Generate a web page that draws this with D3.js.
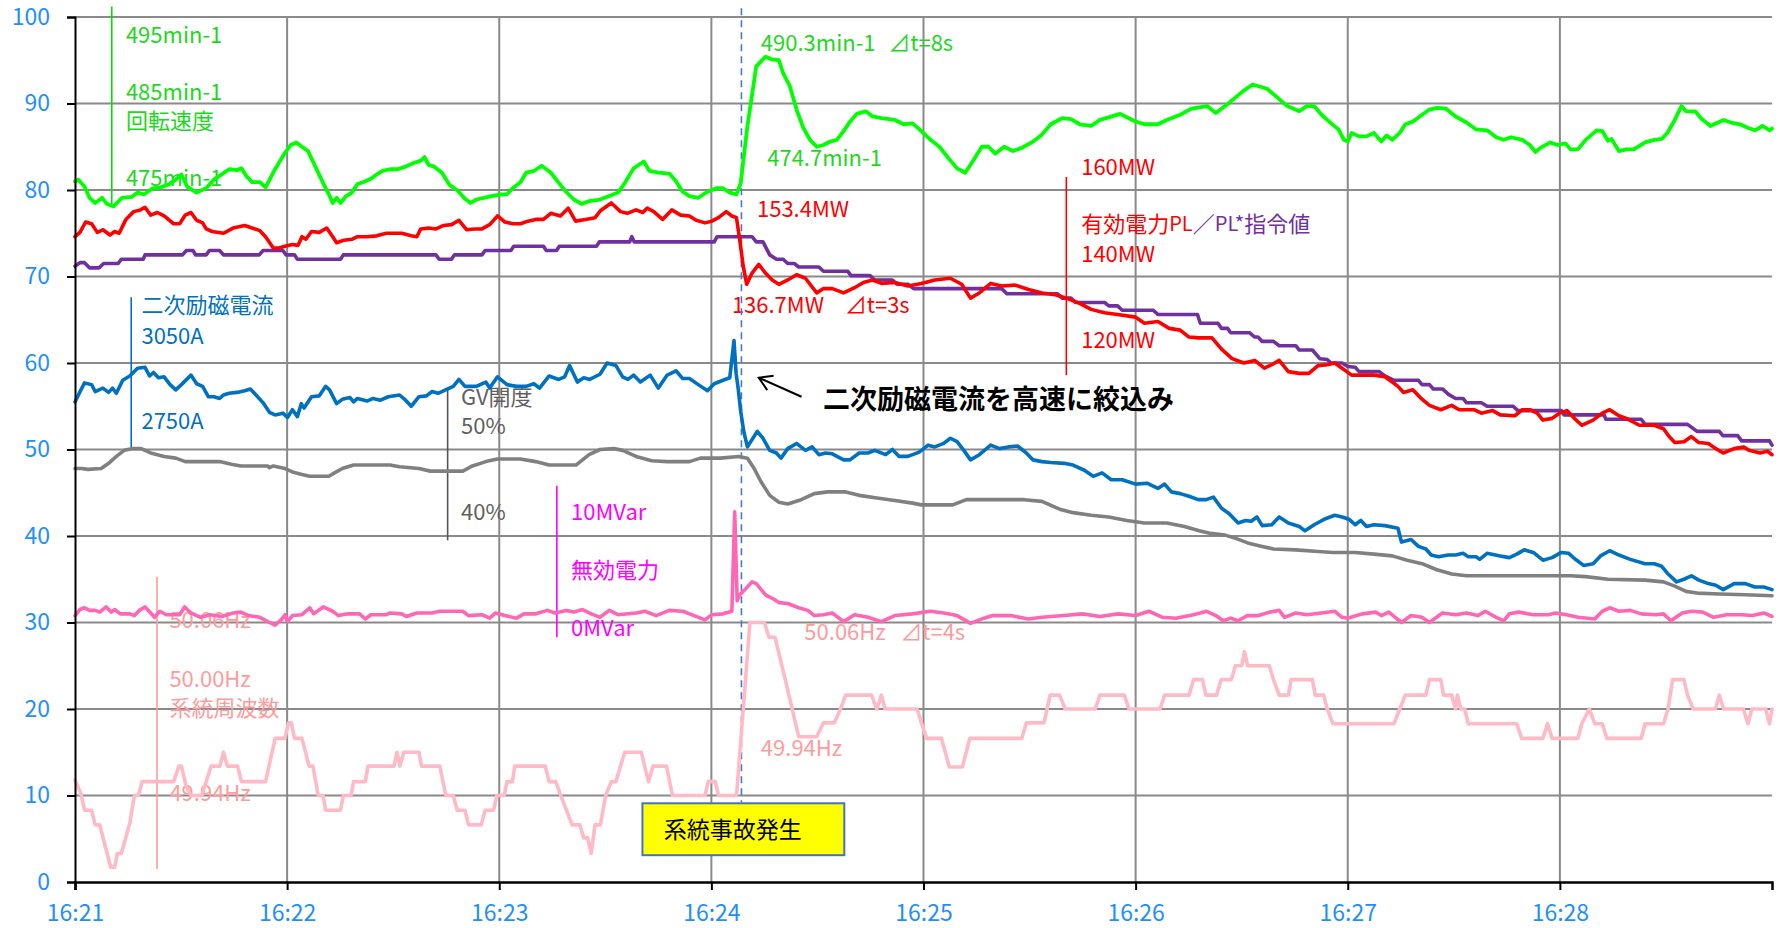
<!DOCTYPE html>
<html>
<head>
<meta charset="utf-8">
<script src="https://cdn.jsdelivr.net/npm/d3@7"></script>
<style>
  html, body { margin: 0; padding: 0; background: #fff; }
  svg { display: block; }
  text { font-family: "Noto Sans CJK JP", "Noto Sans", sans-serif; }
</style>
</head>
<body>
<svg id="chart" width="1781" height="928"></svg>
<script>
// ---- Time axis (seconds from 16:21:00) ----
const tickSeconds = [0, 60, 120, 180, 240, 300, 360, 420];
const tickLabels = ["16:21", "16:22", "16:23", "16:24", "16:25", "16:26", "16:27", "16:28"];
const yTicks = [0, 10, 20, 30, 40, 50, 60, 70, 80, 90, 100];
const faultTime = 188.5;

// ---- Series: [seconds, scaled value 0-100] ----
const speed = [[0,81.0],[0.9,81.2],[2.7,80.4],[4.1,79.1],[5.7,78.5],[7.7,79.1],[9.0,78.4],[10.9,78.1],[13.3,79.1],[16.0,79.2],[17.7,79.7],[19.6,79.5],[22.0,80.2],[24.2,80.3],[26.3,80.6],[28.5,81.2],[30.1,81.8],[31.7,80.4],[34.4,79.7],[37.1,80.2],[39.3,81.2],[41.5,81.8],[43.6,82.4],[45.8,82.3],[47.1,82.5],[48.5,81.6],[50.1,80.9],[52.3,80.9],[53.9,80.3],[56.6,82.4],[59.4,84.3],[61.0,85.2],[62.6,85.5],[64.2,85.0],[65.9,84.5],[68.0,82.7],[70.2,80.8],[71.8,79.5],[72.9,78.5],[74.0,79.1],[75.1,78.5],[76.7,79.3],[78.3,79.7],[79.9,80.7],[81.5,80.9],[83.7,81.3],[85.3,81.8],[87.0,82.2],[89.1,82.4],[91.3,82.4],[93.5,82.7],[95.6,83.1],[97.8,83.4],[98.9,83.8],[100.0,82.9],[101.6,82.7],[103.8,82.0],[105.9,80.6],[108.1,80.0],[110.3,79.0],[111.9,78.5],[113.5,78.9],[115.7,79.1],[117.8,79.3],[120.5,79.5],[122.2,79.5],[123.8,80.2],[126.0,80.9],[127.6,82.0],[129.8,82.2],[132.0,82.8],[134.6,82.0],[137.3,80.6],[138.9,79.8],[141.1,78.9],[143.3,78.4],[145.4,78.7],[148.5,78.9],[151.1,79.3],[153.6,79.7],[155.5,80.8],[158.0,82.5],[160.9,83.3],[162.5,82.2],[165.0,82.0],[168.1,81.9],[170.0,81.0],[171.9,79.8],[173.8,79.3],[176.3,79.1],[178.9,79.8],[181.4,80.2],[183.3,80.2],[185.2,79.7],[187.1,79.5],[188.3,80.8],[190.2,87.4],[192.7,94.3],[195.3,95.4],[197.2,95.1],[199.1,95.0],[200.3,93.5],[202.2,92.0],[204.1,89.3],[206.0,87.2],[207.9,85.8],[209.8,85.0],[211.7,85.2],[213.6,85.6],[215.5,85.8],[217.4,86.8],[219.2,87.9],[221.1,88.8],[223.7,89.1],[225.6,88.5],[228.1,88.3],[231.9,88.1],[234.4,87.6],[236.9,87.7],[239.4,86.8],[242.0,85.8],[244.5,85.0],[247.0,83.7],[249.5,82.5],[251.8,82.0],[253.9,83.3],[256.5,85.0],[258.4,85.0],[260.3,84.2],[262.8,85.0],[265.3,84.5],[267.9,84.9],[271.0,85.6],[273.5,86.4],[276.0,87.6],[279.2,88.3],[281.7,88.2],[284.2,87.6],[287.4,87.4],[289.9,88.1],[292.4,88.4],[295.6,88.8],[298.1,88.3],[300.0,87.9],[302.5,87.6],[306.3,87.6],[308.8,88.1],[312.6,88.7],[315.8,89.4],[320.2,89.7],[322.7,88.9],[326.5,90.1],[330.3,91.4],[333.1,92.2],[337.2,91.7],[339.8,90.8],[342.9,89.7],[346.3,89.1],[348.4,89.7],[350.5,89.7],[352.6,88.7],[355.3,87.7],[357.4,87.0],[358.9,85.8],[360.0,85.6],[361.1,86.6],[363.2,86.2],[365.3,86.2],[367.4,86.6],[369.5,85.6],[371.0,86.3],[372.6,85.8],[374.7,86.6],[376.3,87.6],[378.4,87.9],[381.0,88.7],[383.1,89.3],[385.2,89.5],[387.8,89.4],[390.5,88.5],[393.6,87.8],[396.3,87.0],[399.4,86.9],[402.0,86.1],[404.1,85.8],[406.2,86.1],[409.4,85.8],[411.5,85.2],[413.1,84.4],[414.6,84.9],[417.3,85.5],[419.4,85.2],[421.5,85.4],[423.0,84.7],[425.1,84.7],[427.3,85.8],[430.4,86.9],[432.0,86.8],[433.6,85.7],[434.6,85.9],[436.7,84.5],[438.8,84.7],[440.9,84.7],[444.1,85.5],[446.7,85.8],[448.8,85.9],[450.4,86.6],[452.5,88.1],[454.4,89.7],[455.7,89.1],[458.3,89.1],[459.9,88.3],[462.6,87.4],[464.7,87.8],[466.3,88.1],[468.4,87.8],[471.0,87.6],[473.1,87.2],[475.2,86.9],[477.3,87.4],[479.4,86.9],[480,87.1]];

const activePower = [[0,74.6],[1.4,75.1],[3.0,76.3],[4.7,76.1],[6.3,75.1],[7.9,75.4],[9.9,74.8],[11.2,75.2],[12.5,75.0],[14.4,76.6],[16.6,77.5],[18.5,77.7],[19.8,78.0],[21.4,77.1],[23.3,77.4],[25.2,77.0],[27.9,76.1],[29.6,76.1],[31.2,77.1],[32.8,77.4],[34.4,76.5],[36.1,76.2],[37.1,75.5],[38.8,75.2],[42.0,75.0],[44.7,75.6],[48.0,75.9],[50.1,75.6],[52.3,75.3],[53.9,74.6],[56.1,73.3],[57.7,73.3],[59.4,73.5],[61.5,73.7],[63.1,73.6],[64.2,74.6],[65.3,74.3],[66.9,75.2],[69.1,75.1],[71.2,75.6],[72.9,74.6],[74.0,73.9],[76.1,74.2],[78.3,74.3],[79.9,74.6],[82.6,74.6],[85.3,74.7],[88.1,75.0],[92.4,75.0],[95.1,74.7],[96.7,74.6],[97.8,75.5],[100.0,75.6],[102.1,75.5],[104.3,75.9],[106.5,76.0],[108.6,76.5],[110.8,75.4],[113.0,75.5],[115.1,75.5],[117.3,76.0],[119.5,77.0],[121.6,76.3],[123.8,76.1],[126.0,76.1],[128.1,76.4],[130.3,76.6],[132.5,76.6],[134.6,77.3],[137.3,77.0],[139.5,77.9],[141.6,76.4],[144.4,76.6],[147.1,76.8],[148.6,77.6],[151.7,78.5],[154.3,77.5],[156.2,77.3],[158.7,77.7],[160.6,77.4],[161.8,77.9],[163.7,77.5],[166.2,76.6],[168.8,77.7],[171.3,77.1],[173.8,77.0],[175.7,76.5],[178.2,76.2],[180.1,76.4],[182.0,76.8],[184.2,77.5],[185.8,77.0],[187.1,76.8],[188.0,74.3],[189.0,71.2],[190.0,69.1],[191.5,70.4],[193.4,71.4],[195.3,70.4],[197.2,69.6],[199.1,69.1],[201.6,69.6],[204.1,70.2],[206.6,69.8],[209.8,68.1],[211.7,68.6],[214.2,68.6],[217.4,68.1],[220.5,68.7],[223.0,69.3],[225.6,69.6],[228.1,69.2],[231.9,69.3],[235.6,68.9],[239.4,69.2],[243.2,69.6],[247.6,69.8],[250.8,69.1],[253.3,67.5],[255.8,68.1],[259.0,69.2],[262.1,68.9],[265.9,69.0],[269.7,68.5],[273.5,68.1],[277.3,67.9],[280.4,67.5],[284.2,66.9],[287.4,66.2],[291.2,65.8],[294.9,65.6],[300.0,65.3],[302.5,64.6],[306.3,64.8],[309.5,64.0],[312.6,63.8],[315.1,63.0],[317.7,62.9],[321.6,62.9],[324.3,61.6],[327.3,60.5],[330.6,60.0],[333.7,60.3],[336.4,59.4],[338.5,59.8],[340.6,60.3],[343.2,59.0],[346.3,58.8],[349.0,58.8],[351.6,59.7],[354.2,59.8],[356.3,60.0],[358.4,59.4],[361.1,58.6],[364.2,58.6],[367.4,58.6],[370.5,58.4],[372.6,57.8],[374.2,57.3],[375.8,56.6],[378.4,56.9],[380.5,56.0],[383.1,55.1],[386.3,54.6],[389.4,55.1],[391.5,54.6],[395.7,54.6],[397.8,54.2],[401.0,54.5],[403.1,54.0],[407.3,53.9],[409.4,54.6],[411.5,54.6],[413.6,54.2],[415.2,53.4],[417.8,53.6],[419.9,54.2],[422.0,54.5],[424.1,53.6],[426.2,52.8],[429.4,53.4],[432.0,54.2],[434.1,54.6],[436.7,53.9],[438.8,53.6],[442.5,52.8],[446.7,52.8],[449.3,52.4],[450.9,51.5],[452.5,50.8],[455.1,50.9],[457.2,51.5],[459.3,50.8],[462.0,50.7],[464.1,50.1],[466.2,49.6],[469.3,50.1],[472.0,50.3],[473.5,49.9],[476.6,49.6],[478.7,49.8],[480,49.4]];

const powerCommand = [[0,71.2],[1.4,71.6],[2.7,71.6],[4.1,71.0],[6.8,71.0],[8.1,71.5],[12.2,71.5],[13.1,72.0],[19.3,72.0],[19.8,72.5],[30.4,72.5],[31.5,73.0],[33.4,73.0],[34.1,72.5],[37.1,72.5],[38.0,73.0],[40.9,73.0],[42.0,72.5],[52.1,72.5],[53.2,73.0],[58.8,73.0],[59.7,72.5],[62.1,72.5],[62.9,72.0],[75.1,72.0],[75.9,72.5],[102.1,72.5],[103.0,72.0],[106.5,72.0],[107.3,72.5],[115.1,72.5],[116.0,73.0],[123.3,73.0],[124.1,73.5],[132.5,73.5],[133.3,73.0],[136.2,73.0],[137.0,73.5],[147.5,73.5],[148.3,74.0],[156.9,74.0],[157.5,74.6],[158.2,74.0],[180.8,74.0],[181.6,74.6],[191.5,74.6],[192.7,74.0],[194.6,74.0],[196.5,72.5],[198.4,72.0],[200.3,72.0],[201.6,71.5],[203.5,71.5],[204.7,71.1],[210.4,71.1],[211.7,70.6],[218.6,70.6],[219.5,70.1],[224.9,70.1],[226.2,69.6],[231.2,69.6],[232.5,69.1],[235.6,69.1],[237.2,68.6],[262.1,68.6],[263.6,68.0],[277.9,68.0],[279.2,67.5],[281.7,67.5],[283.0,67.0],[291.2,67.0],[292.4,66.6],[294.9,66.6],[296.2,66.1],[305.0,66.1],[306.3,65.6],[317.5,65.6],[318.3,64.6],[323.3,64.6],[324.3,64.0],[326.0,64.0],[326.9,63.5],[332.2,63.5],[333.7,63.0],[334.6,63.0],[335.8,62.5],[339.0,62.5],[340.6,62.0],[345.3,62.0],[346.3,61.5],[350.0,61.5],[352.1,60.5],[354.2,60.4],[355.3,60.0],[358.4,60.0],[360.0,59.6],[362.1,59.5],[363.2,59.0],[368.9,59.0],[370.5,58.5],[373.1,58.0],[380.0,58.0],[381.0,57.5],[383.1,57.5],[384.2,57.0],[386.8,57.0],[388.4,56.4],[390.5,55.9],[392.6,55.9],[393.6,55.4],[397.8,55.4],[399.4,55.0],[406.8,55.0],[408.1,54.5],[420.4,54.5],[421.2,54.0],[432.5,54.0],[433.0,53.5],[443.0,53.5],[444.1,52.9],[456.1,52.9],[458.8,52.1],[465.1,52.1],[466.1,51.6],[470.3,51.6],[471.4,51.0],[479.3,51.0],[480,50.5]];

const rotorCurrent = [[0,55.5],[1.2,56.5],[2.7,57.7],[4.7,57.5],[5.7,56.7],[7.9,57.1],[9.5,56.6],[10.6,57.1],[11.7,56.5],[13.5,58.0],[15.5,58.5],[17.7,59.4],[19.8,59.5],[21.1,58.5],[22.2,58.9],[23.6,58.3],[25.2,58.4],[26.9,57.5],[28.5,56.9],[30.1,57.5],[32.8,58.6],[34.4,57.6],[36.1,57.3],[37.7,56.1],[39.3,56.1],[40.9,55.9],[42.0,56.3],[43.6,56.5],[45.8,56.6],[48.0,56.8],[49.6,57.0],[51.2,56.3],[53.4,55.3],[55.0,54.3],[56.6,54.0],[58.8,54.2],[60.1,53.7],[61.5,54.6],[62.9,53.8],[64.0,55.3],[64.8,54.8],[66.9,56.1],[69.1,56.2],[70.9,57.3],[72.0,56.9],[74.0,55.3],[75.6,55.8],[77.8,56.0],[78.8,55.5],[79.9,55.9],[82.6,55.6],[84.3,55.9],[86.4,55.7],[88.6,56.1],[91.8,56.3],[93.5,55.7],[95.1,55.0],[97.3,56.1],[99.4,56.2],[101.0,56.7],[102.7,56.5],[104.8,56.9],[107.0,57.3],[108.6,58.1],[110.3,57.3],[113.5,57.3],[116.2,57.8],[117.3,57.1],[119.5,58.4],[122.2,57.5],[124.9,57.3],[127.6,57.3],[129.8,57.6],[131.4,57.1],[134.1,58.5],[136.8,58.1],[138.5,58.4],[139.9,59.7],[142.1,57.8],[143.9,58.3],[145.6,58.1],[148.5,58.7],[150.5,60.0],[153.0,59.7],[154.9,58.4],[156.4,58.1],[158.0,58.6],[159.9,57.8],[162.7,58.6],[165.0,57.1],[167.5,58.6],[170.0,59.1],[171.9,58.2],[173.8,58.2],[176.3,57.5],[178.9,56.8],[180.8,57.6],[183.3,58.0],[185.2,58.3],[186.4,62.6],[187.0,58.8],[187.6,57.0],[188.3,54.4],[189.2,52.0],[190.2,50.3],[193.0,52.1],[194.6,51.3],[196.5,49.9],[198.4,49.6],[199.7,49.0],[201.6,50.1],[204.1,50.7],[206.6,49.9],[208.5,50.3],[210.4,49.4],[212.3,49.6],[214.2,49.5],[217.4,48.8],[219.2,48.8],[221.8,49.6],[224.3,49.6],[226.2,49.9],[229.3,49.4],[231.2,50.0],[233.1,49.2],[235.6,49.2],[238.8,49.7],[241.3,50.5],[243.2,50.3],[245.7,50.7],[247.6,51.3],[249.5,50.9],[251.4,49.9],[253.3,48.8],[255.8,49.4],[259.0,50.5],[261.5,50.1],[264.0,50.3],[266.6,50.4],[269.1,49.6],[271.0,48.8],[273.5,48.6],[276.0,48.5],[279.8,48.4],[282.3,48.2],[285.5,47.6],[288.0,46.9],[290.5,47.3],[293.1,46.5],[296.2,46.5],[300.0,46.0],[303.2,46.1],[306.3,45.5],[308.2,46.0],[310.1,45.1],[312.6,44.9],[315.1,44.6],[317.7,44.2],[320.0,44.2],[322.0,44.5],[324.3,43.2],[326.4,42.6],[329.0,41.5],[331.1,41.8],[332.7,41.7],[334.3,42.2],[335.8,41.2],[338.5,41.3],[340.6,42.2],[343.2,41.5],[346.3,41.1],[347.9,40.6],[350.5,41.3],[353.7,42.0],[356.3,42.4],[358.4,42.2],[360.5,41.9],[362.1,41.3],[363.7,41.8],[365.3,41.1],[367.4,41.3],[370.5,41.2],[374.2,40.9],[375.2,39.3],[377.9,39.6],[380.0,38.8],[382.1,38.5],[383.6,37.8],[385.7,37.6],[388.4,37.8],[390.5,37.8],[392.6,38.0],[394.1,37.6],[396.3,37.6],[397.3,37.3],[399.4,38.0],[403.1,37.7],[405.7,37.5],[407.8,37.9],[409.9,38.4],[412.5,38.1],[415.2,37.2],[417.8,37.5],[420.4,38.1],[422.5,38.0],[424.1,37.4],[426.7,36.6],[429.4,36.8],[431.5,37.7],[434.1,38.3],[436.7,37.8],[439.9,37.3],[444.1,36.8],[446.7,36.8],[448.8,36.5],[450.4,35.7],[453.0,34.7],[455.1,35.0],[457.2,35.4],[459.3,34.9],[462.0,34.5],[464.1,34.3],[466.2,33.8],[469.3,34.5],[472.5,34.5],[475.1,34.1],[477.7,34.1],[480,33.8]];

const gvOpening = [[0,47.8],[1.9,47.8],[3.6,47.7],[7.4,47.8],[9.5,48.4],[11.7,49.2],[13.9,49.9],[16.0,50.1],[18.7,50.1],[21.4,49.6],[25.2,49.2],[28.5,49.0],[31.2,48.6],[35.0,48.6],[40.9,48.6],[44.2,48.3],[46.9,48.1],[54.5,48.1],[55.0,47.9],[56.1,48.1],[59.4,47.8],[61.5,47.4],[64.2,47.1],[66.4,46.9],[71.8,46.9],[73.4,47.3],[75.6,47.8],[78.8,48.2],[89.1,48.2],[91.8,48.0],[97.3,47.8],[100.5,47.5],[109.7,47.5],[112.4,48.1],[116.2,48.6],[119.5,48.9],[126.0,48.9],[130.3,48.6],[134.1,48.2],[141.7,48.2],[145.4,49.4],[148.5,50.0],[152.4,50.1],[154.9,49.9],[158.7,49.2],[163.1,48.7],[167.5,48.6],[173.8,48.6],[176.9,49.0],[182.6,49.0],[187.7,49.2],[190.2,49.0],[192.1,47.8],[194.0,46.3],[196.5,44.7],[199.1,43.9],[201.6,43.7],[205.4,44.2],[209.1,44.9],[212.9,45.1],[218.0,45.1],[221.8,44.7],[226.8,44.4],[231.9,44.1],[236.9,43.8],[239.4,43.6],[244.5,43.6],[248.3,43.6],[252.1,44.2],[259.6,44.2],[268.5,44.2],[273.5,44.0],[278.5,43.1],[282.3,42.7],[287.4,42.4],[292.4,42.2],[297.5,41.8],[302.5,41.5],[308.8,41.5],[313.8,41.1],[318.0,40.6],[321.2,40.3],[325.3,40.1],[328.5,39.7],[331.7,39.2],[335.8,38.8],[339.0,38.5],[345.3,38.4],[351.6,38.2],[355.8,38.1],[362.1,38.1],[367.4,37.9],[372.6,37.7],[376.8,37.2],[381.0,36.8],[385.2,36.1],[389.4,35.6],[393.6,35.4],[402.0,35.4],[412.5,35.4],[423.0,35.4],[427.3,35.3],[433.6,35.0],[444.1,34.9],[449.3,34.7],[452.5,34.2],[455.7,33.6],[458.8,33.4],[465.1,33.3],[472.5,33.2],[480,33.1]];

const reactivePower = [[0,30.8],[1.4,31.5],[2.7,31.7],[4.1,31.4],[5.7,31.4],[7.0,31.2],[8.8,31.8],[10.3,31.2],[11.2,31.5],[12.8,31.0],[15.5,31.0],[16.8,30.8],[18.2,31.4],[19.8,31.8],[21.4,31.1],[22.5,30.6],[24.0,31.3],[25.8,30.9],[29.6,30.9],[31.0,31.8],[32.8,31.1],[35.5,30.6],[38.2,30.9],[41.5,30.7],[44.7,31.1],[46.9,31.2],[49.1,30.8],[52.3,30.6],[54.5,30.1],[56.6,29.7],[58.3,30.3],[59.4,30.9],[60.1,30.1],[61.5,30.8],[64.2,30.9],[66.4,31.7],[67.5,31.0],[70.2,31.8],[72.9,31.3],[74.5,30.8],[77.2,31.0],[80.5,31.0],[82.1,30.4],[83.7,30.9],[88.1,30.9],[89.1,31.1],[92.4,31.0],[93.7,30.7],[96.7,31.1],[101.0,31.1],[103.2,31.3],[109.7,31.3],[111.3,30.8],[115.1,30.9],[117.3,30.5],[118.9,31.1],[121.6,30.8],[124.9,30.5],[127.0,31.0],[130.3,31.0],[133.6,31.4],[135.8,31.1],[139.0,31.4],[141.1,31.2],[143.5,31.5],[146.0,31.0],[148.5,30.6],[151.1,31.4],[153.6,30.9],[158.7,31.1],[161.2,31.3],[164.4,30.8],[168.1,31.4],[171.9,31.3],[175.1,30.8],[178.2,30.3],[180.1,30.9],[183.3,31.0],[185.8,31.3],[186.6,42.8],[187.3,32.5],[188.0,33.2],[189.5,33.8],[191.5,34.7],[192.7,34.5],[195.3,33.2],[197.2,32.8],[199.1,32.3],[201.6,32.2],[204.7,31.7],[207.3,31.4],[209.1,30.8],[211.7,30.9],[214.2,31.1],[217.4,30.1],[220.5,30.9],[224.3,30.6],[228.1,30.1],[231.9,30.8],[236.9,31.0],[242.0,31.3],[245.7,31.1],[249.5,30.8],[253.3,29.9],[257.1,30.5],[259.6,30.8],[264.7,30.8],[269.7,30.4],[273.5,30.6],[279.8,30.8],[284.9,31.0],[289.9,30.7],[295.0,31.0],[300.0,30.8],[303.8,31.3],[307.6,30.6],[311.4,30.5],[316.4,30.9],[320.1,31.3],[322.7,30.8],[324.8,30.2],[326.9,30.5],[329.0,30.2],[331.6,30.8],[334.8,30.8],[337.9,31.2],[340.6,31.4],[342.1,30.6],[345.3,31.1],[348.4,30.9],[352.6,31.1],[356.3,31.3],[358.4,30.6],[360.0,30.5],[364.2,31.0],[367.9,31.2],[369.5,30.8],[371.6,31.2],[373.1,30.7],[375.2,30.0],[377.9,30.8],[381.0,30.6],[383.1,30.0],[386.8,31.1],[390.5,30.9],[393.6,31.1],[396.8,30.8],[398.9,31.3],[402.0,30.6],[404.1,30.2],[405.7,31.0],[408.3,31.2],[412.5,30.9],[416.7,30.9],[418.8,31.1],[421.9,30.9],[425.1,30.6],[429.9,30.4],[432.0,31.3],[434.1,31.7],[436.7,31.3],[439.9,31.4],[443.0,31.0],[447.2,30.9],[449.3,31.0],[451.4,30.2],[454.6,31.1],[457.2,31.3],[460.4,31.2],[463.5,30.6],[467.2,30.9],[471.4,30.9],[474.5,30.8],[477.7,31.1],[480,30.7]];

const frequency = [[0,11.8],[1.6,10.3],[2.7,8.3],[4.7,8.3],[5.7,6.6],[7.0,6.6],[10.1,1.7],[11.2,1.7],[12.0,3.3],[13.1,3.3],[15.5,6.8],[16.8,10.0],[17.9,10.0],[19.0,11.6],[27.9,11.6],[29.4,13.4],[30.1,13.4],[31.5,11.0],[32.8,10.0],[35.9,10.0],[37.1,11.6],[38.5,13.4],[41.0,13.4],[42.0,15.0],[43.1,13.4],[46.0,13.4],[47.1,11.6],[53.9,11.6],[56.6,16.6],[59.4,16.6],[60.4,18.4],[61.2,18.4],[62.1,16.6],[64.2,16.6],[66.2,13.4],[67.3,13.4],[68.8,10.0],[70.2,10.0],[70.9,8.3],[75.1,8.3],[75.9,10.0],[78.1,10.0],[78.8,11.6],[82.1,11.6],[82.9,13.4],[90.2,13.4],[91.1,15.0],[91.9,13.4],[93.0,15.0],[97.3,15.0],[98.0,13.4],[103.2,13.4],[104.9,10.0],[107.0,10.0],[108.1,8.3],[110.3,8.3],[111.3,6.6],[114.9,6.6],[116.0,8.3],[118.4,8.3],[119.3,10.0],[121.4,10.0],[122.2,11.6],[123.7,11.6],[124.4,13.4],[133.0,13.4],[134.1,11.6],[136.0,11.6],[137.4,10.0],[139.0,8.3],[140.6,6.6],[142.8,6.6],[143.9,5.1],[145.0,5.1],[146.0,3.3],[147.1,6.6],[148.6,6.6],[150.1,10.0],[151.7,11.6],[153.0,11.6],[154.3,13.4],[155.5,15.0],[160.2,15.0],[162.2,11.6],[163.5,13.4],[167.3,13.4],[169.0,10.0],[178.2,10.0],[179.1,11.6],[181.1,11.6],[182.0,10.0],[187.1,10.0],[189.0,19.9],[190.9,30.0],[195.0,30.0],[196.3,28.3],[198.0,28.3],[200.9,23.4],[204.7,16.8],[209.8,16.8],[211.7,18.4],[214.8,18.4],[216.5,20.0],[218.0,21.6],[225.3,21.6],[226.8,20.0],[228.1,21.6],[229.1,20.0],[238.2,20.0],[239.4,18.4],[240.9,16.6],[245.1,16.6],[247.3,13.3],[251.0,13.3],[253.1,16.6],[267.8,16.6],[269.1,18.4],[274.1,18.4],[275.8,21.6],[278.5,21.6],[280.1,20.0],[288.6,20.0],[289.9,21.6],[296.8,21.6],[298.1,20.0],[306.9,20.0],[308.2,21.6],[315.1,21.6],[316.4,23.4],[318.9,23.4],[319.9,21.6],[322.9,21.6],[324.2,23.4],[327.1,23.4],[328.2,25.0],[330.0,25.0],[330.8,26.6],[331.7,25.0],[337.8,25.0],[339.0,23.4],[340.6,21.6],[343.2,21.6],[344.0,23.4],[350.0,23.4],[350.8,21.6],[353.2,21.6],[354.2,20.0],[355.8,18.3],[373.1,18.3],[374.7,20.0],[376.3,21.6],[382.1,21.6],[383.1,23.4],[386.3,23.4],[387.1,21.6],[389.4,21.6],[390.5,20.0],[391.0,21.6],[392.0,20.0],[393.1,20.0],[394.1,18.3],[407.8,18.3],[409.2,16.6],[415.2,16.6],[416.5,18.3],[417.8,16.6],[425.1,16.6],[426.2,18.3],[428.3,20.0],[429.9,18.3],[432.0,18.3],[433.3,16.6],[443.0,16.6],[444.1,18.3],[449.3,18.3],[450.6,20.0],[451.9,23.4],[455.1,23.4],[456.1,21.6],[457.7,20.0],[464.0,20.0],[465.1,21.6],[466.3,20.0],[471.9,20.0],[473.2,18.3],[474.3,20.0],[478.2,20.0],[479.3,18.3],[480,20.0]];

// ---- Layout ----
const svg = d3.select("#chart");
const W = 1781, H = 928;
const plot = { left: 75, right: 1772, top: 17, bottom: 882 };

const x = d3.scaleLinear().domain([0, 480]).range([plot.left, plot.right]);
const y = d3.scaleLinear().domain([0, 100]).range([plot.bottom, plot.top]);

svg.append("rect").attr("width", W).attr("height", H).attr("fill", "#fff");

const axisColor = "#1E8FFF";
const gridColor = "#8a8a8a";
const tickFont = "'Liberation Sans', Arial, sans-serif";

// grid
const grid = svg.append("g");
grid.selectAll("line.h").data(yTicks.filter(d => d > 0)).join("line")
  .attr("class", "h")
  .attr("x1", plot.left).attr("x2", plot.right)
  .attr("y1", d => y(d)).attr("y2", d => y(d))
  .attr("stroke", gridColor).attr("stroke-width", 2);
grid.selectAll("line.v").data(tickSeconds.filter(d => d > 0)).join("line")
  .attr("class", "v")
  .attr("x1", d => x(d)).attr("x2", d => x(d))
  .attr("y1", plot.top).attr("y2", plot.bottom)
  .attr("stroke", gridColor).attr("stroke-width", 2);

// ---- Annotation scales (drawn under the traces) ----
const ann = svg.append("g");
const fs = 22;

function vbar(t, v1, v2, color, w) {
  ann.append("line").attr("x1", x(t)).attr("x2", x(t))
    .attr("y1", y(v1)).attr("y2", y(v2))
    .attr("stroke", color).attr("stroke-width", w || 1.6);
}
function label(t, v, str, color, size, weight) {
  return ann.append("text").attr("x", x(t)).attr("y", y(v))
    .attr("dy", "-0.08em")
    .attr("dominant-baseline", "central")
    .attr("fill", color).attr("font-size", size || fs)
    .attr("font-weight", weight || "normal")
    .text(str);
}

// rotation speed
const greenText = "#1ED81E";
vbar(10.4, 101.2, 78.3, "#00E000");
label(14.4, 98.0, "495min-1", greenText);
label(14.4, 91.4, "485min-1", greenText);
label(14.4, 88.0, "回転速度", greenText);
label(14.4, 81.4, "475min-1", greenText);

// rotor current
const blue = "#0070C0";
vbar(15.9, 67.6, 50.1, blue);
label(18.8, 66.7, "二次励磁電流", blue);
label(18.8, 63.2, "3050A", blue);
label(18.8, 53.3, "2750A", blue);

// GV opening
const grayText = "#5f5f5f";
vbar(105.4, 56.9, 39.5, "#555");
label(109.2, 56.1, "GV開度", grayText);
label(109.2, 52.8, "50%", grayText);
label(109.2, 42.8, "40%", grayText);

// reactive power
const magenta = "#FF00FF";
vbar(136.3, 45.8, 28.3, magenta);
label(140.3, 42.8, "10MVar", magenta);
label(140.3, 36.1, "無効電力", magenta);
label(140.3, 29.4, "0MVar", magenta);

// frequency
const salmon = "#FF9B9B";
vbar(23.2, 35.3, 1.5, salmon);
label(26.7, 30.3, "50.06Hz", salmon);
label(26.7, 23.5, "50.00Hz", salmon);
label(26.7, 20.2, "系統周波数", salmon);
label(26.7, 10.3, "49.94Hz", salmon);

// active power / command
const red = "#FF0000", purple = "#7030A0";
vbar(280.4, 81.5, 58.6, red);
label(284.6, 82.7, "160MW", red);
const pl = label(284.6, 76.1, "", red);
pl.append("tspan").attr("fill", red).text("有効電力");
pl.append("tspan").attr("fill", red).attr("font-size", 20).text("PL");
pl.append("tspan").attr("fill", purple).text("／");
pl.append("tspan").attr("fill", purple).attr("font-size", 20).text("PL*");
pl.append("tspan").attr("fill", purple).text("指令値");
label(284.6, 72.6, "140MW", red);
label(284.6, 62.7, "120MW", red);

// event values
label(194.0, 97.0, "490.3min-1", greenText);
label(230.0, 97.0, "⊿t=8s", greenText);
label(195.8, 83.7, "474.7min-1", greenText);
label(192.9, 77.8, "153.4MW", red);
label(185.8, 66.7, "136.7MW", red);
label(217.7, 66.7, "⊿t=3s", red);
label(206.3, 28.9, "50.06Hz", salmon);
label(233.4, 28.9, "⊿t=4s", salmon);
label(194.0, 15.5, "49.94Hz", salmon);

// fault instant marker
ann.append("line")
  .attr("x1", x(faultTime)).attr("x2", x(faultTime))
  .attr("y1", y(101)).attr("y2", y(9.2))
  .attr("stroke", "#4A78C8").attr("stroke-width", 1.6)
  .attr("stroke-dasharray", "7,5");

// ---- Traces ----
const line = d3.line().x(d => x(d[0])).y(d => y(d[1]));
const traces = [
  { data: frequency, color: "#FFBAC6", w: 3.6 },
  { data: reactivePower, color: "#FF66B3", w: 3.6 },
  { data: gvOpening, color: "#808080", w: 3.6 },
  { data: rotorCurrent, color: blue, w: 3.6 },
  { data: powerCommand, color: purple, w: 3.6 },
  { data: activePower, color: red, w: 3.6 },
  { data: speed, color: "#00FF00", w: 3.8 }
];
svg.append("g").selectAll("path").data(traces).join("path")
  .attr("d", d => line(d.data))
  .attr("fill", "none")
  .attr("stroke", d => d.color)
  .attr("stroke-width", d => d.w)
  .attr("stroke-linejoin", "round")
  .attr("stroke-linecap", "round");

// ---- Callouts on top ----
const overlay = svg.append("g");
const a0 = [x(205.5), y(56.1)], a1 = [x(193.4), y(58.3)];
overlay.append("line").attr("x1", a0[0]).attr("y1", a0[1]).attr("x2", a1[0]).attr("y2", a1[1])
  .attr("stroke", "#000").attr("stroke-width", 2);
{
  const ang = Math.atan2(a1[1] - a0[1], a1[0] - a0[0]);
  const L = 15, spread = 0.55;
  const p1 = [a1[0] - L * Math.cos(ang - spread), a1[1] - L * Math.sin(ang - spread)];
  const p2 = [a1[0] - L * Math.cos(ang + spread), a1[1] - L * Math.sin(ang + spread)];
  overlay.append("path")
    .attr("d", `M${p1[0]},${p1[1]}L${a1[0]},${a1[1]}L${p2[0]},${p2[1]}`)
    .attr("fill", "none").attr("stroke", "#000").attr("stroke-width", 2);
}
overlay.append("text").attr("x", x(211.6)).attr("y", y(55.8))
  .attr("dy", "-0.06em")
  .attr("dominant-baseline", "central").attr("font-size", 27)
  .attr("font-weight", "bold").attr("fill", "#000")
  .text("二次励磁電流を高速に絞込み");

overlay.append("rect")
  .attr("x", x(160.5)).attr("y", y(9.1))
  .attr("width", x(217.6) - x(160.5)).attr("height", y(3.1) - y(9.1))
  .attr("fill", "#FFFF00").attr("stroke", "#4472C4").attr("stroke-width", 2);
overlay.append("text").attr("x", x(166.5)).attr("y", y(6.2))
  .attr("dominant-baseline", "central").attr("font-size", 23)
  .attr("fill", "#000").text("系統事故発生");

// ---- Axes ----
const yAxis = d3.axisLeft(y).tickValues(yTicks).tickSize(8).tickPadding(17);
const gy = svg.append("g").attr("transform", `translate(${plot.left},0)`).call(yAxis);
gy.select(".domain").attr("stroke", "#000").attr("stroke-width", 2);
gy.selectAll(".tick line").attr("stroke", "#000").attr("stroke-width", 2);
gy.selectAll(".tick text").attr("fill", axisColor).attr("font-size", 23)
  .attr("font-family", tickFont);

const xAxis = d3.axisBottom(x).tickValues(tickSeconds)
  .tickFormat((d, i) => tickLabels[i]).tickSize(8);
const gx = svg.append("g").attr("transform", `translate(0,${plot.bottom})`).call(xAxis);
gx.select(".domain").attr("stroke", "#000").attr("stroke-width", 2.5);
gx.selectAll(".tick line").attr("stroke", "#000").attr("stroke-width", 2);
gx.selectAll(".tick text").attr("fill", axisColor).attr("font-size", 23)
  .attr("font-family", tickFont)
  .attr("y", 39).attr("dy", null);
</script>
</body>
</html>
